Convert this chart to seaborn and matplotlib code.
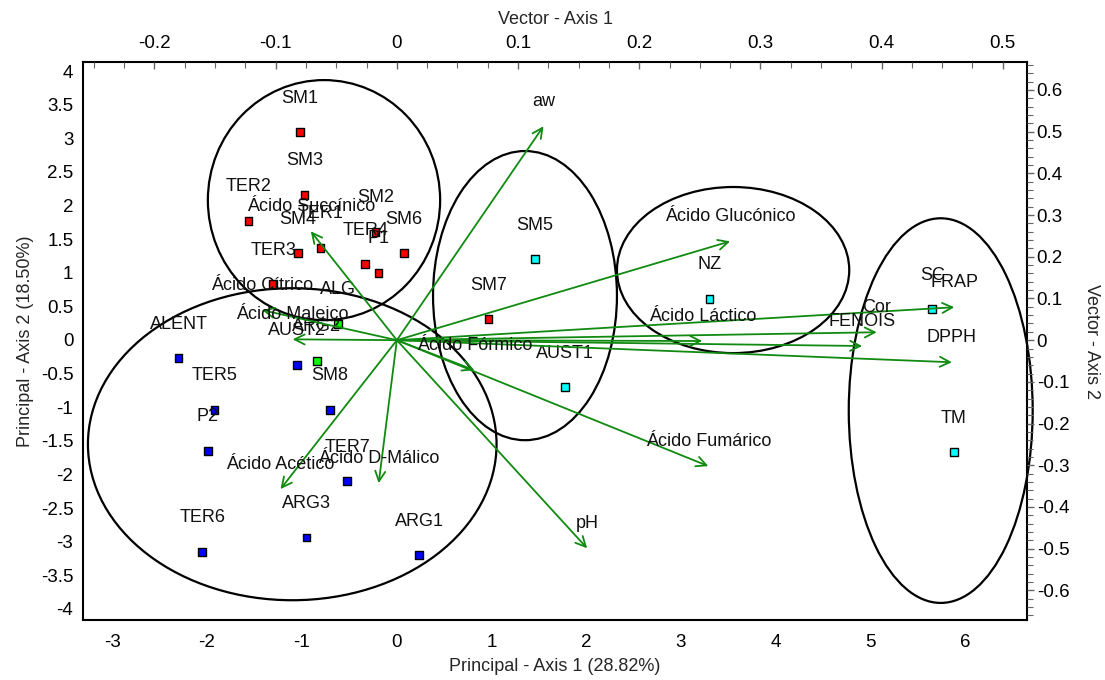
import matplotlib
matplotlib.use("Agg")
import matplotlib.pyplot as plt
from matplotlib.patches import Ellipse
from matplotlib.ticker import MultipleLocator, FuncFormatter
import pandas as pd
import seaborn as sns

# Sample scores on the first two principal components
samples = ["SM1", "SM3", "TER2", "SM2", "SM4", "TER1", "TER4", "P1", "SM6", "TER3",
           "SM7", "ALG", "ARG2", "ALENT", "AUST2", "TER5", "SM8", "P2", "TER7",
           "ARG3", "TER6", "ARG1", "SM5", "AUST1", "NZ", "SC", "TM"]
pc1 = [-1.02, -0.97, -1.56, -0.22, -1.04, -0.80, -0.33, -0.19, 0.08, -1.30,
       0.97, -0.62, -0.84, -2.30, -1.05, -1.92, -0.70, -1.99, -0.52,
       -0.95, -2.05, 0.24, 1.46, 1.78, 3.30, 5.65, 5.88]
pc2 = [3.09, 2.16, 1.77, 1.61, 1.29, 1.37, 1.13, 1.00, 1.29, 0.83,
       0.31, 0.24, -0.31, -0.27, -0.37, -1.04, -1.04, -1.65, -2.10,
       -2.94, -3.15, -3.20, 1.20, -0.70, 0.61, 0.46, -1.67]
group = ["A"] * 11 + ["B"] * 2 + ["C"] * 9 + ["D"] * 5

# Variable loadings (vector axes)
variables = ["aw", "Ácido Glucónico", "FRAP", "Cor", "Ácido Láctico", "FENOIS", "DPPH",
             "Ácido Fumárico", "pH", "Ácido Fórmico", "Ácido D-Málico", "Ácido Acético",
             "Ácido Maleico", "Ácido Cítrico", "Ácido Succínico"]
vec1 = [0.121, 0.275, 0.460, 0.396, 0.252, 0.384, 0.458,
        0.257, 0.157, 0.064, -0.015, -0.096,
        -0.086, -0.111, -0.071]
vec2 = [0.513, 0.237, 0.079, 0.019, -0.002, -0.014, -0.053,
        -0.302, -0.499, -0.072, -0.343, -0.357,
        0.002, 0.072, 0.261]

# Cluster outlines in principal-score units: centre x, centre y, width, height
cluster_cx = [-0.765, -1.10, 1.355, 3.55, 5.74]
cluster_cy = [2.08, -1.55, 0.66, 1.04, -1.05]
cluster_w = [2.45, 4.31, 1.94, 2.45, 1.94]
cluster_h = [3.57, 4.64, 4.30, 2.47, 5.72]

sns.set_style("white")
plt.rcParams["font.family"] = ["Liberation Sans", "DejaVu Sans"]
plt.rcParams["axes.unicode_minus"] = False

FS = 13
TFS = 13.5
TICK_C = "#666666"
fig = plt.figure(figsize=(11.05, 6.8), dpi=100)
ax = fig.add_axes([83 / 1105, 1 - 620 / 680, (1027 - 83) / 1105, (620 - 62) / 680])

df = pd.DataFrame({"amostra": samples, "pc1": pc1, "pc2": pc2, "grupo": group})
palette = {"A": "#ff0000", "B": "#00ff00", "C": "#0000ff", "D": "#00ffff"}
sns.scatterplot(data=df, x="pc1", y="pc2", hue="grupo", palette=palette,
                marker="s", s=30, edgecolor="black", linewidth=1.0,
                legend=False, ax=ax, zorder=5)

for name, x, y in zip(samples, pc1, pc2):
    ax.annotate(name, (x, y), xytext=(0, 34), textcoords="offset pixels",
                ha="center", va="center", fontsize=FS, color="#111111", zorder=6)

for cx, cy, w, h in zip(cluster_cx, cluster_cy, cluster_w, cluster_h):
    ax.add_patch(Ellipse((cx, cy), w, h, fill=False, ec="black", lw=1.6,
                         clip_on=False, zorder=4))

ax.set_xlim(-3.307, 6.65)
ax.set_ylim(-4.164, 4.134)
ax.xaxis.set_major_locator(MultipleLocator(1))
ax.xaxis.set_minor_locator(MultipleLocator(0.25))
ax.yaxis.set_major_locator(MultipleLocator(0.5))
ax.yaxis.set_minor_locator(MultipleLocator(0.1))
fmt = FuncFormatter(lambda v, p: f"{v:g}")
ax.xaxis.set_major_formatter(fmt)
ax.yaxis.set_major_formatter(fmt)
ax.tick_params(which="major", direction="out", length=5, width=1, labelsize=TFS,
               color=TICK_C, labelcolor="black")
ax.tick_params(axis="x", which="major", pad=5)
ax.tick_params(axis="y", which="major", pad=2)
ax.tick_params(which="minor", direction="out", length=4, width=0.8, color=TICK_C)
ax.set_xlabel("Principal - Axis 1 (28.82%)", fontsize=FS, labelpad=5)
ax.set_ylabel("Principal - Axis 2 (18.50%)", fontsize=FS, labelpad=5)
for s in ax.spines.values():
    s.set_color("black")
    s.set_linewidth(1.5)

# Overlaid axes for the variable vectors (top and right scales)
axv = fig.add_axes(ax.get_position(), frameon=False)
axv.patch.set_visible(False)
axv.xaxis.tick_top()
axv.xaxis.set_label_position("top")
axv.yaxis.tick_right()
axv.yaxis.set_label_position("right")
axv.set_xlim(-0.259, 0.520)
axv.set_ylim(-0.671, 0.667)
axv.xaxis.set_major_locator(MultipleLocator(0.1))
axv.xaxis.set_minor_locator(MultipleLocator(0.025))
axv.yaxis.set_major_locator(MultipleLocator(0.1))
axv.yaxis.set_minor_locator(MultipleLocator(0.02))
axv.xaxis.set_major_formatter(fmt)
axv.yaxis.set_major_formatter(fmt)
axv.tick_params(axis="x", which="major", direction="in", length=5, width=1,
                labelsize=TFS, pad=7, color=TICK_C, labelcolor="black")
axv.tick_params(axis="x", which="minor", direction="in", length=4, width=0.8,
                color=TICK_C)
axv.tick_params(axis="y", which="major", direction="out", length=5, width=1,
                labelsize=TFS, pad=2, color=TICK_C, labelcolor="black")
axv.tick_params(axis="y", which="minor", direction="out", length=4, width=0.8,
                color=TICK_C)
axv.set_xlabel("Vector - Axis 1", fontsize=FS, labelpad=8)
axv.set_ylabel("Vector - Axis 2", fontsize=FS, rotation=270, labelpad=22)

for name, vx, vy in zip(variables, vec1, vec2):
    axv.annotate("", xy=(vx, vy), xytext=(0, 0),
                 arrowprops=dict(arrowstyle="->", color="#108a10", lw=1.3,
                                 mutation_scale=18, shrinkA=0, shrinkB=0),
                 zorder=3)
    axv.annotate(name, (vx, vy), xytext=(0, 25), textcoords="offset pixels",
                 ha="center", va="center", fontsize=FS, color="#111111", zorder=6)

fig.savefig("out.png", dpi=100)
